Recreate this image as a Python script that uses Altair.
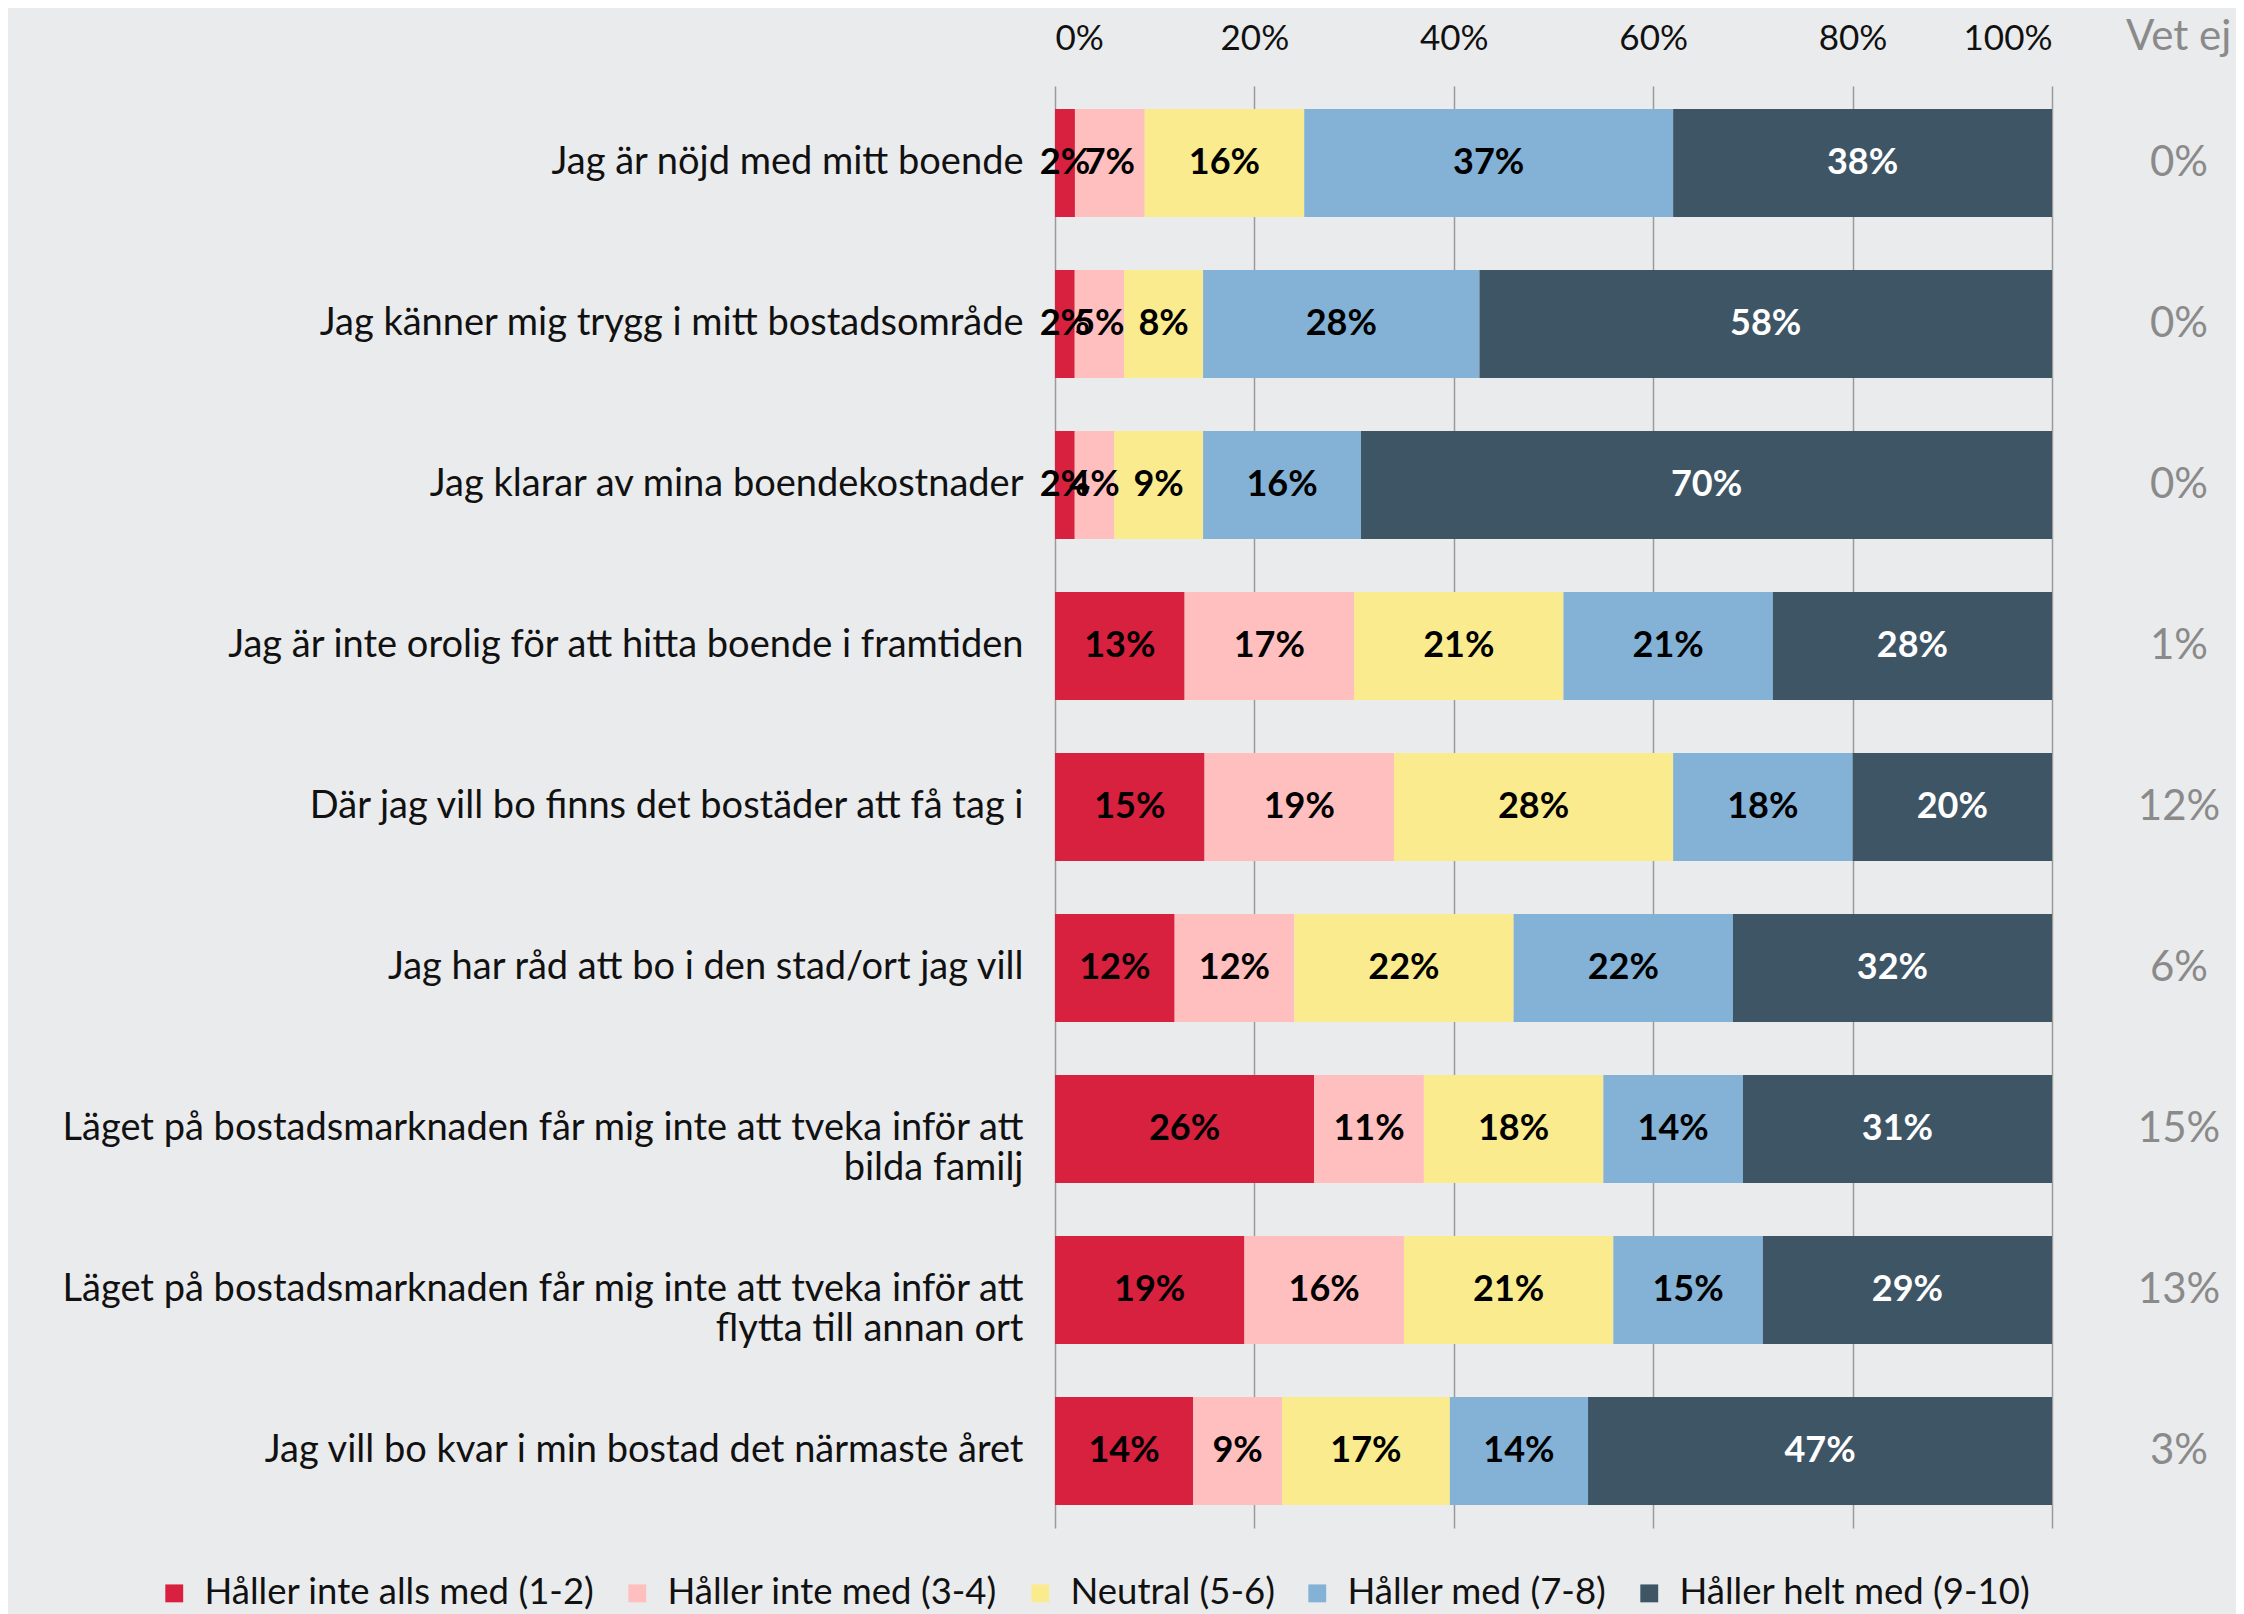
import altair as alt
import pandas as pd

questions = [
    "Jag är nöjd med mitt boende",
    "Jag känner mig trygg i mitt bostadsområde",
    "Jag klarar av mina boendekostnader",
    "Jag är inte orolig för att hitta boende i framtiden",
    "Där jag vill bo finns det bostäder att få tag i",
    "Jag har råd att bo i den stad/ort jag vill",
    "Läget på bostadsmarknaden får mig inte att tveka inför att~bilda familj",
    "Läget på bostadsmarknaden får mig inte att tveka inför att~flytta till annan ort",
    "Jag vill bo kvar i min bostad det närmaste året",
]
categories = [
    "Håller inte alls med (1-2)",
    "Håller inte med (3-4)",
    "Neutral (5-6)",
    "Håller med (7-8)",
    "Håller helt med (9-10)",
]
colors = ["#D8203F", "#FFBFBF", "#FAEC8E", "#83B2D6", "#3E5566"]

inte_alls = [2, 2, 2, 13, 15, 12, 26, 19, 14]
inte_med = [7, 5, 4, 17, 19, 12, 11, 16, 9]
neutral = [16, 8, 9, 21, 28, 22, 18, 21, 17]
med = [37, 28, 16, 21, 18, 22, 14, 15, 14]
helt = [38, 58, 70, 28, 20, 32, 31, 29, 47]
vet_ej = [0, 0, 0, 1, 12, 6, 15, 13, 3]

series = [inte_alls, inte_med, neutral, med, helt]
rows = []
for ci, (cat, vals) in enumerate(zip(categories, series)):
    for q, v in zip(questions, vals):
        rows.append({"question": q, "cat": cat, "cat_idx": ci, "value": v})
df = pd.DataFrame(rows)
df_vet = pd.DataFrame({"question": questions, "vet": vet_ej})
df_head = pd.DataFrame({"t": ["Vet ej"]})

FONT = "Lato"
W, H = 997, 1442

y_enc = alt.Y(
    "question:N",
    sort=questions,
    scale=alt.Scale(paddingInner=0.33, paddingOuter=0.143),
    axis=alt.Axis(
        title=None, ticks=False, domain=False, labelFont=FONT, labelFontSize=38,
        labelColor="#111111", labelPadding=32, labelLimit=0, labelLineHeight=40,
        labelExpr="split(datum.label, '~')",
    ),
)

base = alt.Chart(df).transform_stack(
    stack="value", as_=["x0", "x1"], groupby=["question"],
    sort=[alt.SortField("cat_idx", order="ascending")], offset="normalize",
).transform_calculate(
    mid="(datum.x0 + datum.x1) / 2", label="datum.value + '%'"
)

bars = base.mark_bar().encode(
    y=y_enc,
    x=alt.X(
        "x0:Q",
        scale=alt.Scale(domain=[0, 1], nice=False),
        axis=alt.Axis(
            orient="top", title=None, format="%", values=[0, 0.2, 0.4, 0.6, 0.8, 1.0],
            ticks=False, domain=False, grid=True, gridColor="#9a9a9a", gridWidth=1.5,
            labelFont=FONT, labelFontSize=35, labelColor="#111111", labelPadding=30,
        ),
    ),
    x2="x1:Q",
    color=alt.Color(
        "cat:N",
        scale=alt.Scale(domain=categories, range=colors),
        sort=categories,
        legend=alt.Legend(
            title=None, orient="none", legendX=-899, legendY=1489, direction="horizontal",
            symbolType="square", symbolSize=320, symbolStrokeWidth=0,
            labelFont=FONT, labelFontSize=36.5, labelColor="#111111", labelLimit=0,
            columnPadding=24, labelOffset=12, padding=0,
        ),
    ),
)

labels = base.mark_text(font=FONT, fontSize=36, fontWeight="bold").encode(
    y=alt.Y("question:N", sort=questions),
    x=alt.X("mid:Q"),
    text="label:N",
    color=alt.condition(alt.datum.cat_idx == 4, alt.value("white"), alt.value("black")),
)

vet = alt.Chart(df_vet).transform_calculate(
    vlabel="datum.vet + '%'"
).mark_text(font=FONT, fontSize=42, color="#8a8a8a").encode(
    y=alt.Y("question:N", sort=questions),
    x=alt.value(W + 127),
    text="vlabel:N",
)

head = alt.Chart(df_head).mark_text(
    font=FONT, fontSize=42, color="#8a8a8a", align="left", baseline="middle"
).encode(x=alt.value(W + 74), y=alt.value(-49), text="t:N")

chart = alt.layer(bars, labels, vet, head).properties(
    width=W, height=H,
    autosize=alt.AutoSizeParams(type="none"),
    padding={"left": 1047, "top": 78, "right": 184, "bottom": 86},
    background="#EAEBED",
).configure_view(stroke=None)

chart.save("out.html", embed_options={"renderer": "svg", "actions": False})
